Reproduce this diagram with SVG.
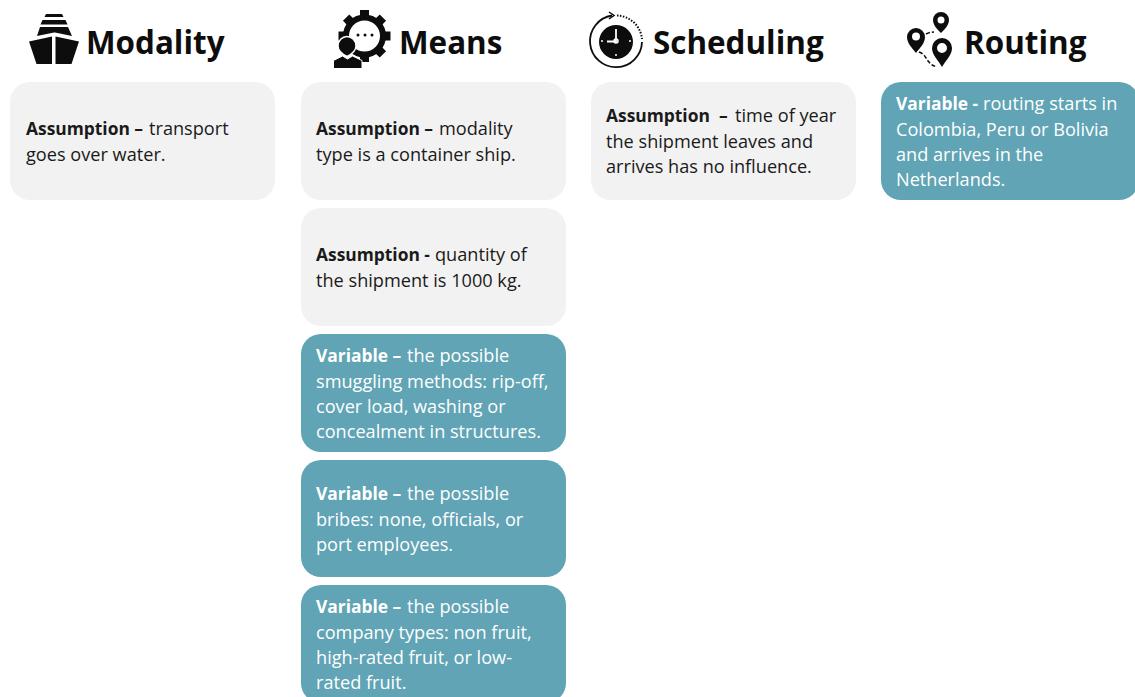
<svg xmlns="http://www.w3.org/2000/svg" width="1135" height="697" viewBox="0 0 1135 697">
<style>
.h{font-family:"Open Sans",sans-serif;font-weight:700;font-size:31.4px;fill:#0d0d0d}
.t{font-family:"Open Sans",sans-serif;font-size:18.15px}
.d{fill:#0d0d0d}.w{fill:#fff}
.g{fill:#f2f2f2}.v{fill:#60a4b5}
.k{fill:#1a1a1a}.l{fill:#fff}
.b{font-weight:700;font-size:17.4px}
</style>
<rect width="1135" height="697" fill="#fff"/>
<g id="modality-header">
<path class="d" d="M46 14h16l1.500 3h-19zM42.500 20h23l2 4.500h-27zM40 27h28l4 9 -17-3.500 -1 0 -17 3.500z"/>
<path class="d" d="M29 41.500 52 36.500v27.500H36.500zM79 41.500 55.500 36.500v27.500H71.500z"/>
<text class="h" x="86" y="54">Modality</text>
</g>
<g id="means-header">
<circle cx="364.500" cy="36" r="18.500" fill="none" stroke="#0d0d0d" stroke-width="6"/>
<g class="d">
<rect x="360" y="10" width="9" height="8"/>
<rect x="360" y="10" width="9" height="8" transform="rotate(45 364.500 36)"/>
<rect x="360" y="10" width="9" height="8" transform="rotate(90 364.500 36)"/>
<rect x="360" y="10" width="9" height="8" transform="rotate(135 364.500 36)"/>
<rect x="360" y="10" width="9" height="8" transform="rotate(180 364.500 36)"/>
<rect x="360" y="10" width="9" height="8" transform="rotate(270 364.500 36)"/>
<rect x="360" y="10" width="9" height="8" transform="rotate(315 364.500 36)"/>
</g>
<circle class="d" cx="358" cy="35" r="1.500"/><circle class="d" cx="365" cy="35" r="1.500"/><circle class="d" cx="372" cy="35" r="1.500"/>
<path class="d" stroke="#fff" stroke-width="1.500" d="M347 36.500a9 9.500 0 0 1 9 9.500c0 4.500-4 8-9 10.500-5-2.500-9-6-9-10.500a9 9.500 0 0 1 9-9.500z"/>
<path class="d" stroke="#fff" stroke-width="1" d="M333.500 68.500v-8l9-4.500 5 3 5-3 9.500 4.500v8z"/>
<text class="h" x="399" y="54">Means</text>
</g>
<g id="scheduling-header">
<circle class="d" cx="616" cy="42" r="17"/>
<path fill="none" stroke="#0d0d0d" stroke-width="1.800" d="M612 15.500A26 26 0 1 0 642 42"/>
<path fill="none" stroke="#0d0d0d" stroke-width="1.500" d="M609 12l5 3.500-5 3.500"/>
<path fill="none" stroke="#0d0d0d" stroke-width="2" stroke-dasharray="1.500 1.500" d="M617 15.500A26 26 0 0 1 642 39"/>
<path fill="none" stroke="#fff" stroke-width="1.800" d="M616 29v12.500h-9"/>
<circle fill="none" stroke="#fff" stroke-width="1.500" cx="616" cy="41" r="2"/>
<circle class="w" cx="602" cy="41" r="1"/><circle class="w" cx="630" cy="41" r="1"/><circle class="w" cx="616" cy="55" r="1"/>
<text class="h" x="653" y="54">Scheduling</text>
</g>
<g id="routing-header">
<path class="d" fill-rule="evenodd" d="M941 12a8 8 0 0 1 8 8c0 5-4 9-8 13-4-4-8-8-8-13a8 8 0 0 1 8-8zm0 4.500a3.500 3.500 0 1 0 0 7 3.500 3.500 0 0 0 0-7z"/>
<path class="d" fill-rule="evenodd" d="M916 28a9 9 0 0 1 9 9c0 6-5 11-9 16-4-5-9-10-9-16a9 9 0 0 1 9-9zm0 4.500a4 4 0 1 0 0 8 4 4 0 0 0 0-8z"/>
<path class="d" fill-rule="evenodd" d="M942 38a10 10 0 0 1 10 10c0 7-6 12-10 19-4-7-10-12-10-19a10 10 0 0 1 10-10zm0 5a5 5 0 1 0 0 10 5 5 0 0 0 0-10z"/>
<path fill="none" stroke="#0d0d0d" stroke-width="1.500" stroke-dasharray="4 2" d="M926 34q4-2 8-2M919 52c6 2 7 7 10 10 2 3 5 4 8 5"/>
<text class="h" x="964" y="54">Routing</text>
</g>
<g id="modality-assumption">
<rect class="g" x="10" y="82" width="265" height="118" rx="20"/>
<text class="t k" x="26" y="135"><tspan class="b">Assumption – </tspan><tspan x="149">transport</tspan></text>
<text class="t k" x="26" y="161">goes over water.</text>
</g>
<g id="means-assumption-1">
<rect class="g" x="301" y="82" width="265" height="118" rx="20"/>
<text class="t k" x="316" y="135"><tspan class="b">Assumption – </tspan><tspan x="439">modality</tspan></text>
<text class="t k" x="316" y="161">type is a container ship.</text>
</g>
<g id="means-assumption-2">
<rect class="g" x="301" y="208" width="265" height="118" rx="20"/>
<text class="t k" x="316" y="261"><tspan class="b">Assumption - </tspan><tspan x="435">quantity of</tspan></text>
<text class="t k" x="316" y="287">the shipment is 1000 kg.</text>
</g>
<g id="means-variable-1">
<rect class="v" x="301" y="334" width="265" height="118" rx="20"/>
<text class="t l" x="316" y="362"><tspan class="b">Variable – </tspan><tspan x="407">the possible</tspan></text>
<text class="t l" x="316" y="388">smuggling methods: rip-off,</text>
<text class="t l" x="316" y="413">cover load, washing or</text>
<text class="t l" x="316" y="438">concealment in structures.</text>
</g>
<g id="means-variable-2">
<rect class="v" x="301" y="460" width="265" height="117" rx="20"/>
<text class="t l" x="316" y="500"><tspan class="b">Variable – </tspan><tspan x="407">the possible</tspan></text>
<text class="t l" x="316" y="526">bribes: none, officials, or</text>
<text class="t l" x="316" y="551">port employees.</text>
</g>
<g id="means-variable-3">
<rect class="v" x="301" y="585" width="265" height="118" rx="20"/>
<text class="t l" x="316" y="613"><tspan class="b">Variable – </tspan><tspan x="407">the possible</tspan></text>
<text class="t l" x="316" y="639">company types: non fruit,</text>
<text class="t l" x="316" y="664">high-rated fruit, or low-</text>
<text class="t l" x="316" y="689">rated fruit.</text>
</g>
<g id="scheduling-assumption">
<rect class="g" x="591" y="82" width="265" height="118" rx="20"/>
<text class="t k" x="606" y="122"><tspan class="b">Assumption</tspan><tspan class="b" x="719">– </tspan><tspan x="735">time of year</tspan></text>
<text class="t k" x="606" y="148">the shipment leaves and</text>
<text class="t k" x="606" y="173">arrives has no influence.</text>
</g>
<g id="routing-variable">
<rect class="v" x="881" y="82" width="258" height="118" rx="20"/>
<text class="t l" x="896" y="110"><tspan class="b">Variable - </tspan><tspan x="983">routing starts in</tspan></text>
<text class="t l" x="896" y="136">Colombia, Peru or Bolivia</text>
<text class="t l" x="896" y="161">and arrives in the</text>
<text class="t l" x="896" y="186">Netherlands.</text>
</g>
<g id="connectors"></g>
</svg>
